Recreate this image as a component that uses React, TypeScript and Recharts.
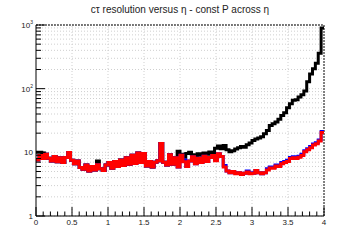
import { LineChart, Line, XAxis, YAxis, CartesianGrid, ReferenceLine } from "recharts";

// 100 bins of width 0.04 in eta, values are the c*tau resolution per bin
const BIN_WIDTH = 0.04;

const BLACK = [
  10.0, 10.0, 9.8, 9.3, 8.1, 7.3, 8.6, 7.1, 8.2, 6.9,
  8.3, 9.9, 7.5, 6.6, 7.3, 5.8, 5.4, 6.3, 5.1, 6.0,
  5.3, 7.3, 5.5, 5.2, 6.3, 6.9, 5.6, 7.2, 6.0, 7.6,
  6.2, 8.2, 6.5, 9.0, 6.7, 9.8, 6.9, 9.6, 6.1, 7.2,
  5.9, 7.0, 7.4, 13.8, 7.0, 6.3, 9.2, 6.5, 8.2, 10.4,
  9.3, 8.4, 9.6, 10.0, 9.2, 8.7, 9.5, 9.0, 9.8, 9.3,
  10.1, 9.7, 11.6, 12.6, 11.4, 12.8, 11.0, 10.2, 10.6, 11.3,
  11.8, 12.4, 12.0, 13.1, 14.0, 15.3, 16.2, 16.8, 17.5, 19.5,
  22, 26.5, 28, 30, 33, 38, 42, 50, 58, 66,
  67, 74, 80, 92, 128, 170, 205, 250, 360, 900,
];

const BLUE = [
  7.6, 8.9, 8.0, 9.3, 8.1, 7.3, 8.6, 7.1, 8.2, 6.9,
  8.3, 9.9, 7.5, 6.6, 7.3, 5.8, 5.4, 6.3, 5.1, 6.0,
  5.3, 6.4, 5.5, 5.2, 6.3, 6.9, 5.6, 7.2, 6.0, 7.6,
  6.2, 8.2, 6.5, 9.0, 6.7, 9.8, 6.9, 9.6, 6.1, 7.2,
  5.9, 7.0, 7.4, 13.8, 7.0, 6.3, 9.2, 6.5, 8.2, 5.9,
  9.0, 7.6, 6.0, 7.3, 8.5, 6.6, 8.1, 6.9, 8.7, 7.2,
  8.3, 8.9, 7.8, 9.5, 8.6, 6.2, 5.1, 4.8, 5.0, 4.8,
  4.8, 4.5, 4.7, 5.1, 4.8, 4.7, 5.2, 4.8, 4.6, 4.8,
  5.5, 5.9, 5.8, 6.3, 6.2, 6.9, 7.2, 7.5, 8.3, 8.5,
  8.3, 8.7, 9.3, 10.6, 11.4, 12.3, 13.5, 14.1, 15.6, 21.3,
];

const RED = [
  7.6, 8.9, 8.0, 9.3, 8.1, 7.3, 8.6, 7.1, 8.2, 6.9,
  8.3, 9.9, 7.5, 6.6, 7.3, 5.8, 5.4, 6.3, 5.1, 6.0,
  5.3, 6.4, 5.5, 5.2, 6.3, 6.9, 5.6, 7.2, 6.0, 7.6,
  6.2, 8.2, 6.5, 9.0, 6.7, 9.8, 6.9, 9.6, 6.1, 7.2,
  5.9, 7.0, 7.4, 13.8, 7.0, 6.3, 9.2, 6.5, 8.2, 5.9,
  9.0, 7.1, 6.0, 7.3, 8.5, 6.6, 8.1, 6.9, 8.7, 7.2,
  8.3, 8.9, 7.4, 9.5, 8.6, 5.9, 5.1, 4.8, 5.0, 4.6,
  4.8, 4.5, 4.7, 4.9, 4.6, 4.7, 5.2, 4.8, 4.6, 4.8,
  5.3, 5.7, 5.6, 6.1, 6.0, 6.6, 6.9, 7.2, 8.0, 8.2,
  8.0, 8.4, 8.9, 10.2, 11.0, 11.8, 13.0, 13.6, 15.0, 20.5,
];

const X_LABELS = ["0", "0.5", "1", "1.5", "2", "2.5", "3", "3.5", "4"];
const X_GRID = [0.5, 1, 1.5, 2, 2.5, 3, 3.5];
const DECADES = [1, 10, 100];

const X_TICKS = Array.from({ length: 41 }, (_, i) => +(i * 0.1).toFixed(1));
const Y_TICKS = [...DECADES.flatMap((d) => [1, 2, 3, 4, 5, 6, 7, 8, 9].map((m) => m * d)), 1000];

// step histogram: one point per low bin edge plus a closing point at the upper edge
const data = RED.map((_, i) => ({
  x: +(i * BIN_WIDTH).toFixed(2),
  black: BLACK[i],
  blue: BLUE[i],
  red: RED[i],
}));
data.push({ x: 4, black: BLACK[99], blue: BLUE[99], red: RED[99] });

const FONT = "'Liberation Sans', Arial, sans-serif";
const GRID = { stroke: "#cfcfcf", strokeDasharray: "1 2" };

function XTick({ x, y, payload }: any) {
  const v = payload.value as number;
  const major = Math.abs(v * 2 - Math.round(v * 2)) < 1e-6;
  return (
    <g>
      <line x1={x} x2={x} y1={y} y2={y - (major ? 9 : 4.5)} stroke="#000" />
      {major && (
        <text x={x} y={y + 9} textAnchor="middle" fontSize={8} fontFamily={FONT} fill="#222">
          {X_LABELS[Math.round(v * 2)]}
        </text>
      )}
    </g>
  );
}

function YTick({ x, y, payload }: any) {
  const v = payload.value as number;
  const lg = Math.log10(v);
  const exp = Math.round(lg);
  const major = Math.abs(lg - exp) < 1e-6;
  return (
    <g>
      <line x1={x} x2={x + (major ? 9 : 5)} y1={y} y2={y} stroke="#000" />
      {major && (
        <text x={x - 3} y={y + 3} textAnchor="end" fontSize={8} fontFamily={FONT} fill="#222">
          {exp === 0 ? "1" : "10"}
          {exp > 1 && (
            <tspan dy={-4} fontSize={5}>
              {exp}
            </tspan>
          )}
        </text>
      )}
    </g>
  );
}

export default function App() {
  return (
    <div style={{ position: "fixed", left: 0, top: 0, width: 360, height: 240, background: "#fff" }}>
      <div
        style={{
          position: "absolute",
          top: 3,
          left: 0,
          width: 360,
          textAlign: "center",
          fontFamily: FONT,
          fontSize: 10,
          color: "#222",
          lineHeight: "13px",
        }}
      >
        cτ resolution versus η - const P across η
      </div>
      <LineChart width={360} height={240} data={data} margin={{ top: 25, right: 36, bottom: 4, left: 6 }}>
        <CartesianGrid vertical={false} {...GRID} />
        {X_GRID.map((g) => (
          <ReferenceLine key={g} x={g} {...GRID} />
        ))}
        <XAxis
          dataKey="x"
          type="number"
          domain={[0, 4]}
          ticks={X_TICKS}
          interval={0}
          height={20}
          tickSize={0}
          tickMargin={0}
          tickLine={false}
          axisLine={{ stroke: "#000" }}
          tick={(p: any) => <XTick {...p} />}
          allowDataOverflow
        />
        <YAxis
          scale="log"
          domain={[1, 1000]}
          ticks={Y_TICKS}
          interval={0}
          width={30}
          tickSize={0}
          tickMargin={0}
          tickLine={false}
          axisLine={{ stroke: "#000" }}
          tick={(p: any) => <YTick {...p} />}
          allowDataOverflow
        />
        <ReferenceLine y={1000} stroke="#000" strokeDasharray="2 1" />
        <ReferenceLine x={4} stroke="#000" strokeDasharray="2 1" />
        <Line dataKey="black" type="stepAfter" stroke="#000" strokeWidth={3} dot={false} isAnimationActive={false} />
        <Line dataKey="blue" type="stepAfter" stroke="#0000ff" strokeWidth={3} dot={false} isAnimationActive={false} />
        <Line dataKey="red" type="stepAfter" stroke="#ff0000" strokeWidth={3} dot={false} isAnimationActive={false} />
      </LineChart>
    </div>
  );
}
